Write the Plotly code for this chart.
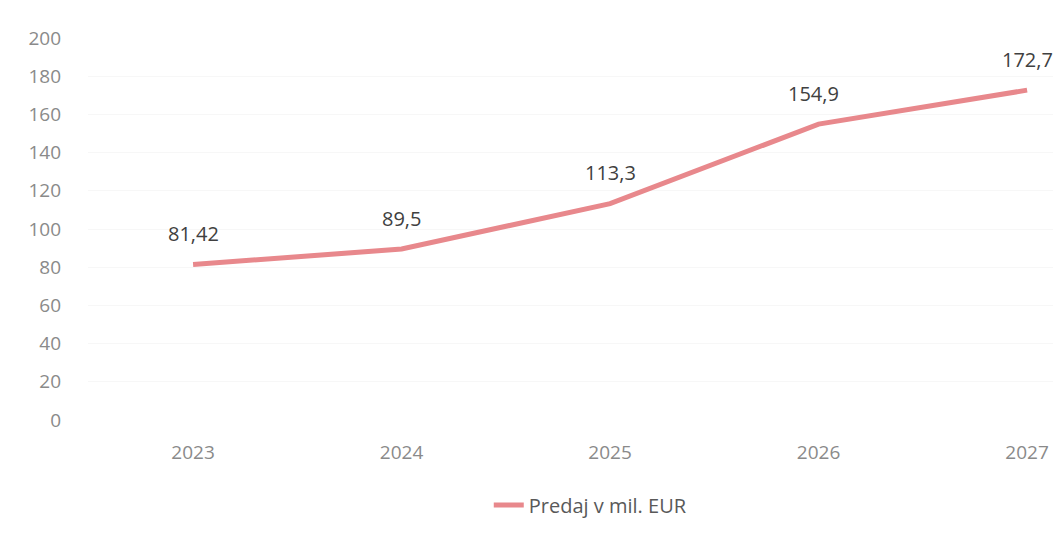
import plotly.graph_objects as go

years = [2023, 2024, 2025, 2026, 2027]
sales = [81.42, 89.5, 113.3, 154.9, 172.7]
labels = [str(v).replace('.', ',') for v in sales]
series_name = "Predaj v mil. EUR"
y_ticks = [0, 20, 40, 60, 80, 100, 120, 140, 160, 180, 200]

fig = go.Figure()
fig.add_trace(go.Scatter(
    x=years, y=sales, mode="lines", name=series_name,
    line=dict(color="#e8888c", width=5),
    showlegend=True,
))

for i, (x, y, t) in enumerate(zip(years, sales, labels)):
    fig.add_annotation(x=x, y=y, text=t, showarrow=False, yshift=31,
                       xshift=-5 if i == 3 else 0,
                       font=dict(family="Open Sans", size=20, color="#404040"))

fig.update_layout(
    width=1061, height=534,
    margin=dict(l=80, r=0, t=30, b=122),
    paper_bgcolor="white", plot_bgcolor="white",
    font=dict(family="Open Sans", color="#8a8a8a", size=19),
    xaxis=dict(range=[2022.496, 2027.201], tickvals=years,
               ticktext=[str(y) for y in years], showgrid=False,
               zeroline=False, showline=False, ticks="", ticklabelstandoff=19),
    yaxis=dict(range=[0, 200], tickvals=y_ticks, showgrid=True,
               gridcolor="#f7f7f7", zeroline=False, showline=False,
               ticks="", ticklabelstandoff=26),
    legend=dict(orientation="h", x=0.512, xanchor="center", y=-0.2225,
                yanchor="middle", font=dict(size=20, color="#595959")),
)

fig.write_html("out.html")
